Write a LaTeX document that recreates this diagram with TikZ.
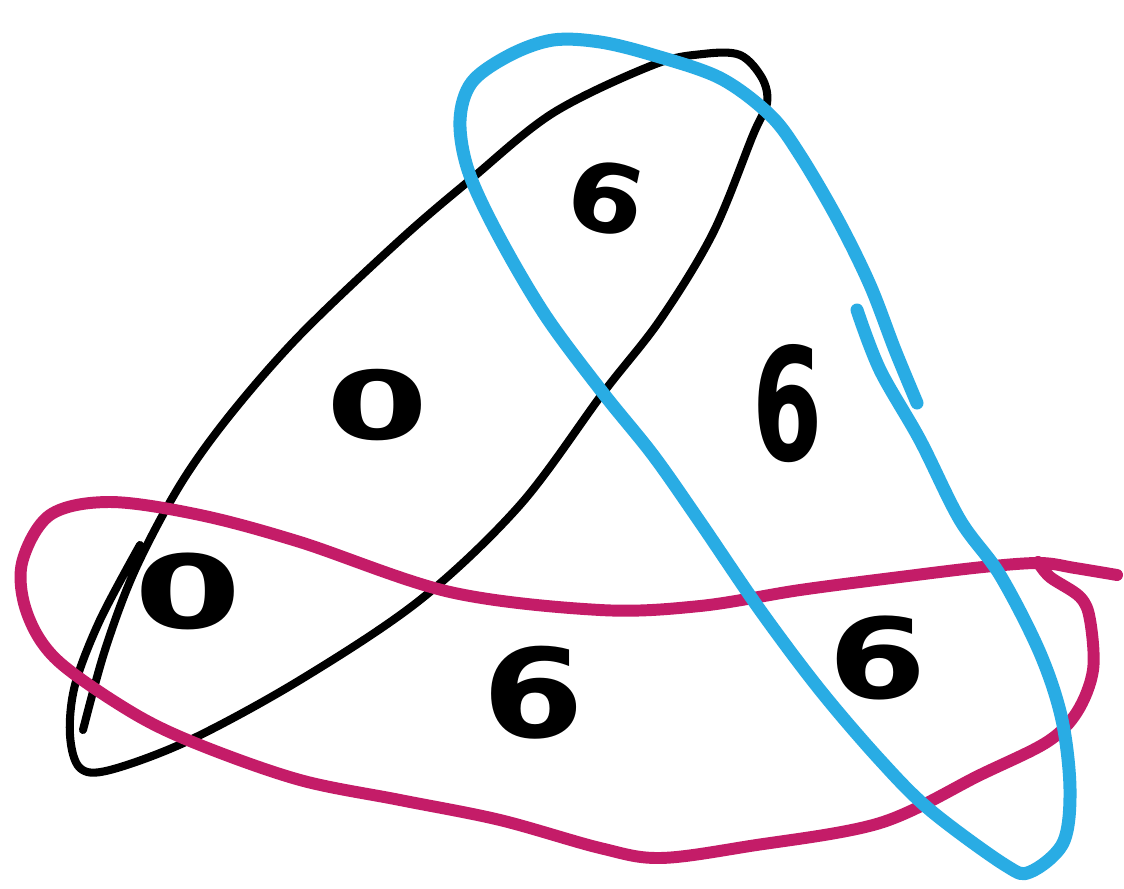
\documentclass[tikz,border=0pt]{standalone}
\usepackage{fontspec}
\setmainfont{DejaVu Sans}
\definecolor{inkblue}{RGB}{41,172,228}
\definecolor{inkmag}{RGB}{196,28,104}
\tikzset{
  ink/.style={line cap=round,line join=round},
  blackloop/.style={ink,draw=black,line width=4.6pt},
  blueloop/.style={ink,draw=inkblue,line width=7.4pt},
  magloop/.style={ink,draw=inkmag,line width=6.8pt},
  glyph/.style={inner sep=0pt,font=\bfseries}
}
\begin{document}
\begin{tikzpicture}[x=0.02cm,y=-0.02cm]
\useasboundingbox (0,0) rectangle (1124,888);
\fill[white] (0,0) rectangle (1124,888);
% black loop
\draw[blackloop] plot[smooth,tension=0.55] coordinates {
 (83,730) (105,650) (135,570) (180,485) (230,415) (300,335) (400,240) (470,180)
 (553,113) (653,65) (703,54) (740,55) (762,78) (767,103) (753,135) (713,233)
 (660,320) (603,393) (520,505) (420,600) (300,680) (190,740) (110,770) (80,768)
 (70,735) (75,685) (100,620) (140,545)};
% magenta loop
\draw[magloop] plot[smooth,tension=0.55] coordinates {
 (1117,575) (1075,568) (1040,563) (983,567) (900,577) (800,590) (700,606) (600,610)
 (450,592) (300,542) (200,515) (110,502) (50,515) (22,563) (27,613) (57,660)
 (133,713) (200,745) (300,780) (400,800) (500,820) (600,848) (660,858) (750,846)
 (880,823) (980,775) (1047,742) (1077,712) (1093,670) (1090,620) (1080,597)
 (1050,577) (1038,562)};
% blue loop
\draw[blueloop] plot[smooth,tension=0.55] coordinates {
 (857,310) (880,370) (920,440) (960,520) (1000,575) (1040,653) (1062,720) (1070,790)
 (1063,843) (1030,872) (1005,865) (930,810) (880,760) (820,690) (760,610) (700,522)
 (653,455) (603,393) (545,315) (497,233) (468,170) (460,120) (472,82) (510,55)
 (553,40) (600,42) (653,55) (720,78) (770,115) (800,155) (838,220) (870,285)
 (895,350) (917,403)};
% labels
\node[glyph,rotate=-12] (l1) at (606,198) {\resizebox{44pt}{40pt}{6}};
\node[glyph] (l2) at (377,405) {\resizebox{58pt}{40pt}{0}};
\node[glyph] (l3) at (788,404) {\resizebox{40pt}{66pt}{6}};
\node[glyph] (l4) at (188,591) {\resizebox{61pt}{43pt}{0}};
\node[glyph] (l5) at (533,693) {\resizebox{58pt}{52pt}{6}};
\node[glyph] (l6) at (878,658) {\resizebox{56pt}{47pt}{6}};
\end{tikzpicture}
\end{document}
